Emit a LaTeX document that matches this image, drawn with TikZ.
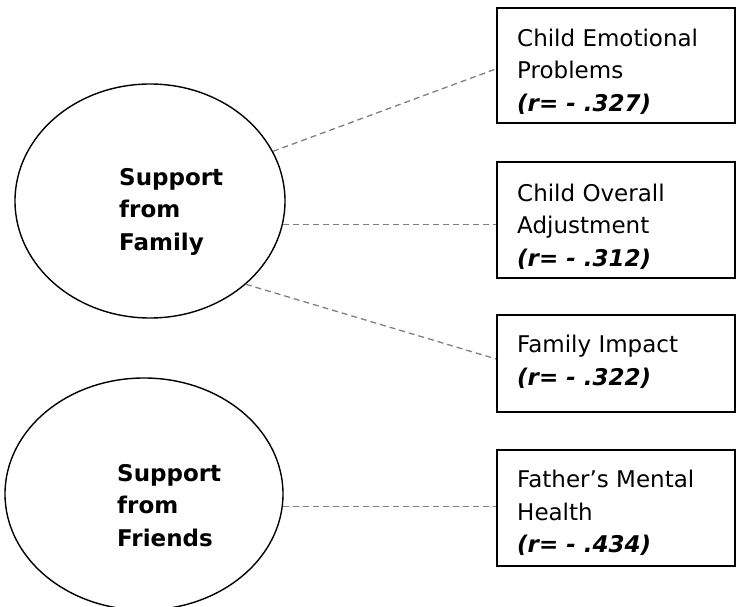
\documentclass[tikz,border=0pt]{standalone}
\usepackage{fontspec}
\setmainfont{DejaVu Sans}
\usetikzlibrary{shapes.geometric}
\definecolor{linkgray}{RGB}{128,128,128}
\begin{document}
\begin{tikzpicture}[x=1pt,y=-1pt,
  oval/.style={ellipse, draw, line width=1.4pt, inner sep=0pt},
  databox/.style={draw, line width=1.8pt, inner sep=0pt, anchor=north west, minimum width=238pt},
  link/.style={draw=linkgray, dash pattern=on 6pt off 4pt, line width=1.3pt},
  lbl/.style={anchor=north west, align=left, inner sep=0pt, font=\fontsize{23}{32.5}\selectfont},
  boldlbl/.style={lbl, font=\fontsize{23}{32.5}\selectfont\bfseries}]
\useasboundingbox (0,0) rectangle (736,607);
% ellipses
\node[oval, minimum width=270pt, minimum height=234pt] (fam) at (150,201) {};
\node[oval, minimum width=278pt, minimum height=232pt] (fri) at (144,494) {};
\node[boldlbl] (famtxt) at (119,168) {Support\\from\\Family};
\node[boldlbl] (fritxt) at (117,464) {Support\\from\\Friends};
% boxes
\node[databox, minimum height=115pt] (box1) at (496,7) {};
\node[databox, minimum height=116pt] (box2) at (496,161) {};
\node[databox, minimum height=97pt] (box3) at (496,314) {};
\node[databox, minimum height=116pt] (box4) at (496,449) {};
\node[lbl] (t1) at (517,28.5) {Child Emotional\\Problems\\\textbf{\textit{(r= - .327)}}};
\node[lbl] (t2) at (517,183.5) {Child Overall\\Adjustment\\\textbf{\textit{(r= - .312)}}};
\node[lbl] (t3) at (517,335) {Family Impact\\\textbf{\textit{(r= - .322)}}};
\node[lbl] (t4) at (517,470) {Father’s Mental\\Health\\\textbf{\textit{(r= - .434)}}};
% connectors
\draw[link] (fam.22) -- ([yshift=-3.5pt]box1.west);
\draw[link] (fam.-10) -- (fam.-10 -| box2.west);
\draw[link] (fam.-41) -- ([yshift=4.5pt]box3.west);
\draw[link] (fri.-5) -- (fri.-5 -| box4.west);
\end{tikzpicture}
\end{document}
